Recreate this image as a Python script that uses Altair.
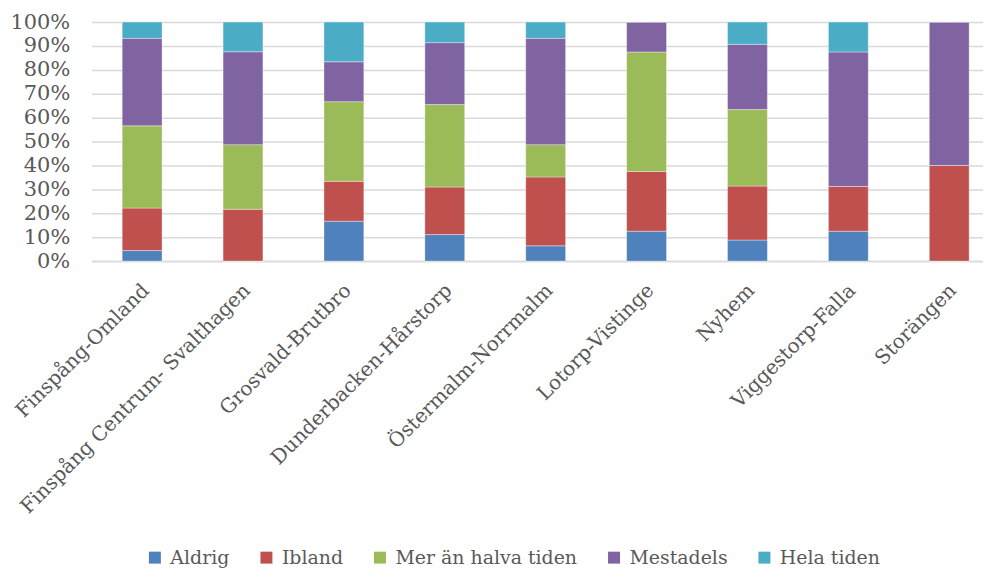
import altair as alt
import pandas as pd

categories = ["Finspång-Omland", "Finspång Centrum- Svalthagen", "Grosvald-Brutbro",
              "Dunderbacken-Hårstorp", "Östermalm-Norrmalm", "Lotorp-Vistinge",
              "Nyhem", "Viggestorp-Falla", "Storängen"]
series = ["Aldrig", "Ibland", "Mer än halva tiden", "Mestadels", "Hela tiden"]
aldrig = [4.4, 0, 16.7, 11.1, 6.4, 12.5, 8.8, 12.5, 0]
ibland = [17.8, 21.7, 16.7, 19.9, 28.8, 25.0, 22.6, 18.75, 40]
mer_an_halva = [34.4, 27.0, 33.3, 34.5, 13.5, 50.0, 32.0, 0, 0]
mestadels = [36.6, 38.9, 16.7, 25.9, 44.5, 12.5, 27.3, 56.25, 60]
hela_tiden = [6.8, 12.4, 16.6, 8.6, 6.8, 0, 9.3, 12.5, 0]
colors = ["#4F81BD", "#C0504D", "#9BBB59", "#8064A2", "#4BACC6"]

rows = []
for si, (name, vals) in enumerate(zip(series, [aldrig, ibland, mer_an_halva, mestadels, hela_tiden])):
    for c, v in zip(categories, vals):
        rows.append({"Område": c, "Serie": name, "Värde": v, "ordning": si})
df = pd.DataFrame(rows)

FONT = "DejaVu Serif"

chart = alt.Chart(df).mark_bar(stroke="white", strokeWidth=0.6, strokeOpacity=0.6).encode(
    x=alt.X("Område:N", sort=categories,
            scale=alt.Scale(paddingInner=0.605, paddingOuter=0.22, align=0.688),
            axis=alt.Axis(title=None, labelAngle=-45, labelAlign="right", labelBaseline="middle",
                          labelPadding=26, labelOffset=4, ticks=False, domainColor="#D9D9D9",
                          domainWidth=1.5, labelFont=FONT, labelFontSize=20,
                          labelColor="#595959", labelLimit=500)),
    y=alt.Y("Värde:Q", stack="normalize",
            scale=alt.Scale(domain=[0, 1], nice=False),
            axis=alt.Axis(title=None, format=".0%", values=[i / 10 for i in range(11)],
                          ticks=False, domain=False, gridColor="#D9D9D9", gridWidth=1.5,
                          labelFont=FONT, labelFontSize=21, labelColor="#595959", labelPadding=22)),
    color=alt.Color("Serie:N", sort=series,
                    scale=alt.Scale(domain=series, range=colors),
                    legend=alt.Legend(title=None, orient="none", direction="horizontal",
                                      legendX=54, legendY=528, symbolType="square", symbolSize=144,
                                      symbolStrokeWidth=0, labelFont=FONT, labelFontSize=19,
                                      labelColor="#595959", columnPadding=27, labelOffset=6,
                                      labelLimit=400)),
    order=alt.Order("ordning:Q", sort="ascending"),
).properties(
    width=895, height=240,
    autosize=alt.AutoSizeParams(type="none"),
    padding={"left": 84, "top": 13, "right": 0, "bottom": 307},
).configure_view(stroke=None)

chart.save("out.html", embed_options={"renderer": "svg", "actions": False})
